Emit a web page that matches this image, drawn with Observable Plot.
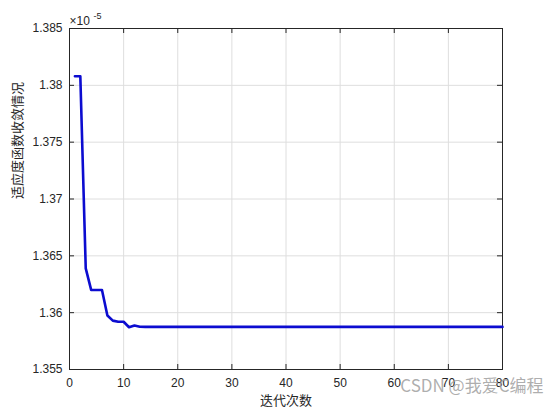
<!DOCTYPE html>
<html><head><meta charset="utf-8">
<script src="https://cdn.jsdelivr.net/npm/d3@7"></script>
<script src="https://cdn.jsdelivr.net/npm/@observablehq/plot@0.6"></script>
<style>body{margin:0;background:#fff;} #c{width:556px;height:413px;}</style>
</head><body><div id="c"></div>
<script>
const iterations = [1,2,3,4,5,6,7,8,9,10,11,12,13,14,15,16,17,18,19,20,21,22,23,24,25,26,27,28,29,30,31,32,33,34,35,36,37,38,39,40,41,42,43,44,45,46,47,48,49,50,51,52,53,54,55,56,57,58,59,60,61,62,63,64,65,66,67,68,69,70,71,72,73,74,75,76,77,78,79,80];
const fitness = [1.3808,1.3808,1.3639,1.3620,1.3620,1.3620,1.35975,1.3593,1.3592,1.3592,1.35872,1.35887,1.35876,
 1.35875,1.35875,1.35875,1.35875,1.35875,1.35875,1.35875,1.35875,1.35875,1.35875,1.35875,1.35875,1.35875,1.35875,
 1.35875,1.35875,1.35875,1.35875,1.35875,1.35875,1.35875,1.35875,1.35875,1.35875,1.35875,1.35875,1.35875,1.35875,
 1.35875,1.35875,1.35875,1.35875,1.35875,1.35875,1.35875,1.35875,1.35875,1.35875,1.35875,1.35875,1.35875,1.35875,
 1.35875,1.35875,1.35875,1.35875,1.35875,1.35875,1.35875,1.35875,1.35875,1.35875,1.35875,1.35875,1.35875,1.35875,
 1.35875,1.35875,1.35875,1.35875,1.35875,1.35875,1.35875,1.35875,1.35875,1.35875,1.35875];
const xTicks = [0,10,20,30,40,50,60,70,80];
const yTicks = [1.355,1.36,1.365,1.37,1.375,1.38,1.385];
const xLabel = "迭代次数";
const yLabel = "适应度函数收敛情况";
const expBase = "×10";
const expPow = "-5";
const watermark = "CSDN @我爱C编程";

const data = iterations.map((x,i)=>({x, y: fitness[i]}));
const fmt = d => String(+d.toFixed(3));
const W=556,H=413, ml=69, mr=54, mt=28, mb=44;
const ih = H-mt-mb, iw = W-ml-mr;

const chart = Plot.plot({
  width: W, height: H,
  marginLeft: ml, marginRight: mr, marginTop: mt, marginBottom: mb,
  style: {fontFamily: "'Liberation Sans', Arial, sans-serif", fontSize: "12px", color: "#262626", background: "#fff"},
  x: {domain: [0,80]},
  y: {domain: [1.355,1.385]},
  marks: [
    Plot.gridX(xTicks, {stroke: "#dedede", strokeOpacity: 1}),
    Plot.gridY(yTicks, {stroke: "#dedede", strokeOpacity: 1}),
    Plot.ruleX(xTicks, {stroke: "#262626", insetTop: ih-5}),
    Plot.ruleX(xTicks, {stroke: "#262626", insetBottom: ih-5}),
    Plot.ruleY(yTicks, {stroke: "#262626", insetRight: iw-5}),
    Plot.ruleY(yTicks, {stroke: "#262626", insetLeft: iw-5}),
    Plot.axisX(xTicks, {tickSize: 0, tickPadding: 9, fontSize: 12, fill: "#262626", label: null}),
    Plot.axisY(yTicks, {tickSize: 0, tickPadding: 7, tickFormat: fmt, fontSize: 12, fill: "#262626", label: null}),
    Plot.frame({stroke: "#262626"}),
    Plot.line(data, {x: "x", y: "y", stroke: "#0c0cd0", strokeWidth: 2.6, curve: "linear"}),
    Plot.text([xLabel], {frameAnchor: "bottom", dy: 35, fontSize: 13, fill: "#262626", fontFamily: "'Noto Sans CJK SC', sans-serif"}),
    Plot.text([yLabel], {frameAnchor: "left", dx: -52, rotate: -90, fontSize: 13, fill: "#262626", fontFamily: "'Noto Sans CJK SC', sans-serif"}),
    Plot.text([expBase], {frameAnchor: "top-left", lineAnchor: "bottom", dx: 0, dy: -4, textAnchor: "start", fontSize: 12, fill: "#262626"}),
    Plot.text([expPow], {frameAnchor: "top-left", lineAnchor: "bottom", dx: 24, dy: -10, textAnchor: "start", fontSize: 9, fill: "#262626"}),
    Plot.text([watermark], {frameAnchor: "bottom-right", dx: 41, dy: 22, textAnchor: "end", fontSize: 17, fill: "#a0a0a0", fillOpacity: 0.85, fontFamily: "'Noto Sans CJK SC', sans-serif"})
  ]
});
document.getElementById("c").appendChild(chart);
</script></body></html>
